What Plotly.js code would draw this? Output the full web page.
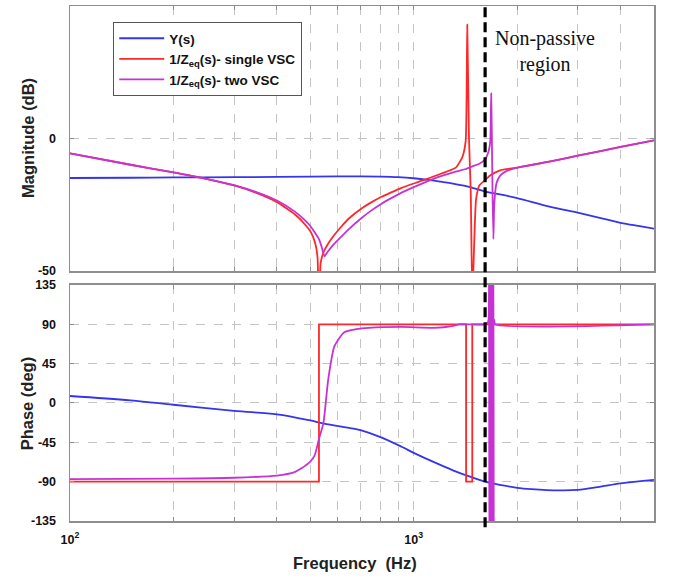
<!DOCTYPE html>
<html>
<head>
<meta charset="utf-8">
<script src="https://cdn.plot.ly/plotly-3.0.1.min.js"></script>
<style>html,body{margin:0;padding:0;background:#fff;}#chart{width:676px;height:578px;}</style>
</head>
<body>
<div id="chart"></div>
<script>
// ---- Y(s) ----
const fY_mag = [100,150,200,300,400,500,600,700,800,900,1000,1100,1200,1300,1400,1500,1613,1800,2000,2500,3000,3500,4000,4500,5000];
const Y_mag  = [-14.9,-14.8,-14.7,-14.6,-14.5,-14.4,-14.3,-14.3,-14.4,-14.6,-15.0,-15.6,-16.3,-17.0,-17.8,-18.8,-20.0,-21.2,-22.5,-25.8,-28.0,-30.0,-31.8,-33.0,-34.0];
const fY_ph  = [100,150,200,300,400,500,540,616,700,800,922,1000,1150,1300,1450,1613,1800,2000,2200,2650,3000,3470,4000,5000];
const Y_ph   = [8,3,-2,-9,-13,-20,-23,-27,-31,-39,-50,-57,-68,-77,-84,-90,-94,-97,-98.5,-100,-99.5,-96,-92,-88];

// ---- 1/Zeq(s) single VSC ----
const fS_mag = [100,150,200,245,300,350,400,450,487,503,518,525,530,536,546,564,588,616,650,705,750,806,860,922,1057,1200,1325,1385,1416,1431,1448,1465,1481,1518,1552,1610,1667,1784,2000,2500,3000,4000,5000];
const S_mag  = [-5.6,-9.9,-12.8,-15.0,-17.7,-20.6,-24.0,-28.5,-33.0,-35.5,-40.0,-45.0,-65.0,-47.0,-43.0,-39.6,-36.3,-33.2,-30.0,-26.4,-24.2,-22.0,-20.3,-18.6,-15.9,-13.3,-11.0,-7.0,-1.0,43.0,0.0,-20.0,-60.0,-23.0,-17.7,-15.8,-14.0,-12.0,-11.0,-8.6,-6.5,-3.2,-0.7];
const fS_ph  = [100,530,530,1420,1420,1480,1480,5000];
const S_ph   = [-90,-90,90,90,-90,-90,90,90];

// ---- 1/Zeq(s) two VSC ----
const fT_mag = [100,150,200,245,300,350,400,450,470,500,530,540,550,560,580,616,650,705,750,806,860,922,1057,1200,1325,1416,1481,1552,1610,1650,1670,1680,1688,1695,1705,1715,1740,1784,1850,2000,2500,3000,4000,5000];
const T_mag  = [-5.6,-9.9,-12.8,-15.0,-17.6,-20.3,-23.4,-27.5,-29.5,-33.0,-38.0,-41.0,-44.5,-43.0,-40.5,-37.0,-34.0,-30.0,-27.3,-24.6,-22.5,-20.4,-17.0,-14.2,-12.5,-11.5,-10.5,-9.5,-8.0,-5.0,-1.0,17.0,0.0,-20.0,-38.0,-25.0,-17.0,-14.0,-12.5,-11.0,-8.6,-6.5,-3.2,-0.7];
const fT_ph  = [100,200,300,400,450,470,500,515,530,546,564,588,628,680,740,922,1150,1293,1355,1600,1640,1650,1655,1660,1665,1670,1675,1680,1685,1690,1695,1700,1705,1710,1715,1725,5000];
const T_ph   = [-87,-86.5,-85.5,-83,-79,-75,-67,-60,-41,-23,27,65,81,84.5,86,87,86,88,90,90,92,95,200,-200,200,-200,200,-200,200,-200,200,-200,200,-200,95,90,90];

// ---- ticks ----
const xTickVals = [100,200,300,400,500,600,700,800,900,1000,2000,3000,4000,5000];
const xTickText = ['10<sup>2</sup>','','','','','','','','','10<sup>3</sup>','','','',''];
const magTicks = [-50,0,50];
const magTickText = ['-50','0','50'];
const phTicks = [-135,-90,-45,0,45,90,135];
const phTickText = ['-135','-90','-45','0','45','90','135'];
const markerFreq = [1613];

const cBlue = '#3535ee', cRed = '#ff2828', cMag = '#c633d4';
const names = ['Y(s)','1/Z<sub>eq</sub>(s)- single VSC','1/Z<sub>eq</sub>(s)- two VSC'];

const data = [
  {x:fY_mag,y:Y_mag,xaxis:'x2',yaxis:'y2',mode:'lines',line:{color:cBlue,width:1.8,shape:'spline',smoothing:1},name:names[0]},
  {x:fS_mag,y:S_mag,xaxis:'x2',yaxis:'y2',mode:'lines',line:{color:cRed,width:1.8,shape:'spline',smoothing:0.5},name:names[1]},
  {x:fT_mag,y:T_mag,xaxis:'x2',yaxis:'y2',mode:'lines',line:{color:cMag,width:1.8,shape:'spline',smoothing:0.5},name:names[2]},
  {x:fY_ph,y:Y_ph,xaxis:'x',yaxis:'y',mode:'lines',line:{color:cBlue,width:1.8,shape:'spline',smoothing:1},showlegend:false},
  {x:fS_ph,y:S_ph,xaxis:'x',yaxis:'y',mode:'lines',line:{color:cRed,width:1.8},showlegend:false},
  {x:fT_ph,y:T_ph,xaxis:'x',yaxis:'y',mode:'lines',line:{color:cMag,width:1.8,shape:'spline',smoothing:0.6},showlegend:false}
];

const FONT = 'Liberation Sans, Arial, sans-serif';
const tickFont = {family:FONT,size:12.5,color:'#111',weight:'bold'};
const titleFont = {family:FONT,size:16.5,color:'#222',weight:'bold'};
const frame = {showline:true,mirror:'ticks',linecolor:'#8e8e8e',linewidth:1.5,ticks:'inside',ticklen:4,tickcolor:'#8e8e8e',
  showgrid:true,gridcolor:'#c4c4c4',griddash:'dash',gridwidth:1,zeroline:false};

const layout = {
  width:676,height:578,
  margin:{l:70,r:22,t:6,b:57},
  paper_bgcolor:'#fff',plot_bgcolor:'#fff',
  showlegend:true,
  legend:{x:0.074,y:0.969,xanchor:'left',yanchor:'top',bgcolor:'#fff',bordercolor:'#555',borderwidth:1,
    font:{family:FONT,size:13.5,color:'#111',weight:'bold'},itemwidth:45,tracegroupgap:0},
  xaxis:Object.assign({},frame,{type:'log',range:[2,Math.log10(5000)],domain:[0,1],anchor:'y',
    tickmode:'array',tickvals:xTickVals,ticktext:xTickText,tickfont:tickFont,ticklabelstandoff:6}),
  xaxis2:Object.assign({},frame,{type:'log',range:[2,Math.log10(5000)],domain:[0,1],anchor:'y2',matches:'x',
    tickmode:'array',tickvals:xTickVals,showticklabels:false}),
  yaxis:Object.assign({},frame,{domain:[0,0.4583],range:[-135,135],tickmode:'array',tickvals:phTicks,ticktext:phTickText,
    tickfont:tickFont,ticklabelstandoff:10}),
  yaxis2:Object.assign({},frame,{domain:[0.4854,1],range:[-50,50],tickmode:'array',tickvals:magTicks,ticktext:magTickText,
    tickfont:tickFont,ticklabelstandoff:10}),
  shapes:[{type:'line',xref:'x',yref:'paper',x0:markerFreq[0],x1:markerFreq[0],y0:-0.012,y1:1,
    line:{color:'#000',width:3.2,dash:'10px,5px'}}],
  annotations:[
    {xref:'paper',yref:'paper',x:0.813,y:0.912,xanchor:'center',yanchor:'middle',showarrow:false,
      text:'Non-passive<br>region',align:'center',font:{family:'Liberation Serif, Times New Roman, serif',size:20,color:'#111'}},
    {xref:'paper',yref:'paper',x:-0.072,y:0.7437,xanchor:'center',yanchor:'middle',showarrow:false,textangle:-90,
      text:'Magnitude (dB)',font:titleFont},
    {xref:'paper',yref:'paper',x:-0.074,y:0.228,xanchor:'center',yanchor:'middle',showarrow:false,textangle:-90,
      text:'Phase (deg)',font:titleFont},
    {xref:'paper',yref:'paper',x:0.488,y:-0.082,xanchor:'center',yanchor:'middle',showarrow:false,
      text:'Frequency  (Hz)',font:titleFont}
  ]
};

Plotly.newPlot('chart',data,layout,{displayModeBar:false,staticPlot:true});
</script>
</body>
</html>
